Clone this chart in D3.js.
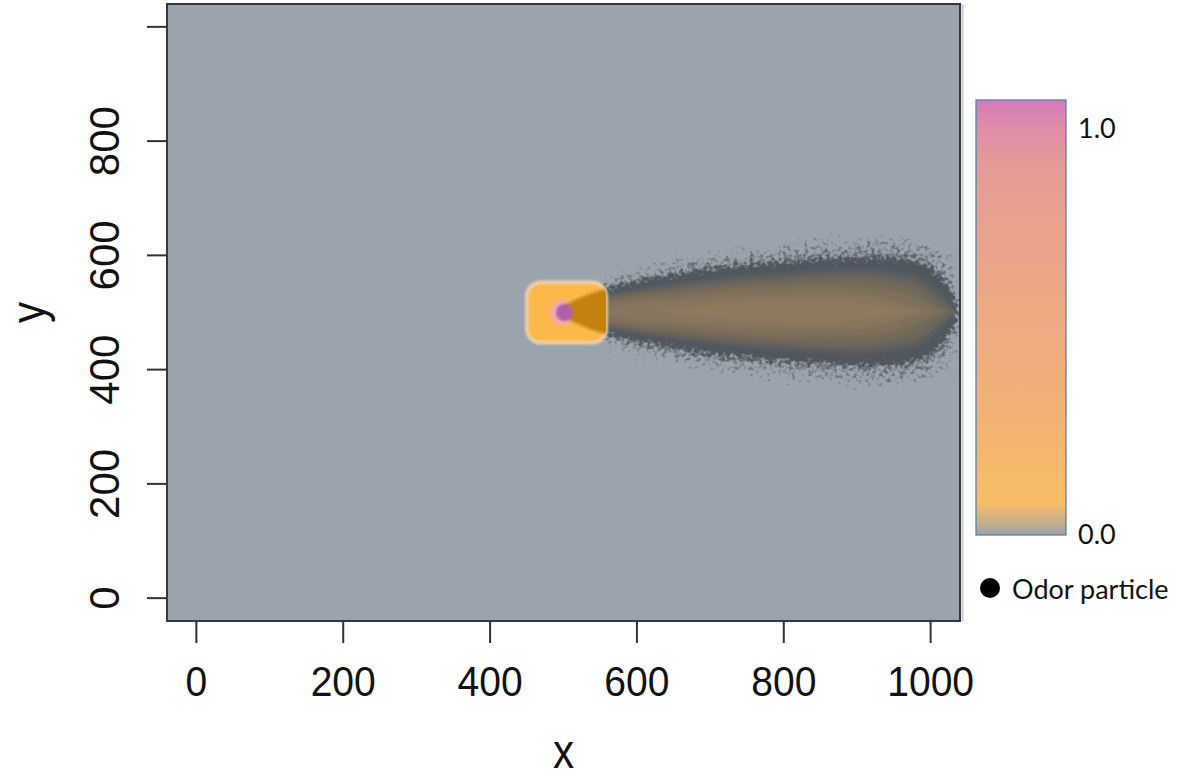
<!DOCTYPE html>
<html>
<head>
<meta charset="utf-8">
<script src="https://cdn.jsdelivr.net/npm/d3@7"></script>
<style>
  html, body { margin: 0; padding: 0; background: #ffffff; }
  svg { display: block; }
</style>
</head>
<body>
<svg id="chart" width="1191" height="778"></svg>
<script>
// ---- axes ----
const xTicks = [0, 200, 400, 600, 800, 1000];
const xTickLabels = ["0", "200", "400", "600", "800", "1000"];
const yTicks = [0, 200, 400, 600, 800, 1000];
const yTickLabels = ["0", "200", "400", "600", "800", ""];

// ---- odor source ----
const sourcePoint = [500, 500];
const sourceBoxX = [450, 558];
const sourceBoxY = [447, 553];

// ---- plume: stations along x, centre line, and half-widths (y units) of each band, outer to inner ----
const plumeX       = [502, 537, 577, 632, 687, 755, 823, 891, 946, 987, 1014, 1035];
const plumeCenterY = [502, 502, 502, 502, 502, 502, 502, 502, 502, 502, 502, 502];
const bandScatter = [18, 50, 70, 88, 102, 114, 124, 132, 134, 128, 114, 92];
const bandDense   = [11, 33, 47, 61, 73, 82, 89, 94, 95, 88, 66, 22];
const band1       = [7, 26, 34, 46, 56, 64, 71, 75, 73, 63, 34, 0];
const band2       = [5, 22, 30, 40, 49, 57, 62, 66, 63, 51, 20, 0];
const band3       = [4, 18, 26, 34, 41, 48, 54, 56, 51, 37, 0, 0];
const band4       = [0, 14, 22, 28, 34, 40, 44, 45, 38, 20, 0, 0];
const band5       = [0, 0, 14, 19, 24, 29, 32, 32, 24, 0, 0, 0];
const band6       = [0, 0, 0, 0, 11, 17, 19, 17, 8, 0, 0, 0];
const innerBands = [band1, band2, band3, band4, band5, band6];
const innerColors = ["#5c5d5f", "#6a655c", "#756b5a", "#7e705b", "#87745d", "#8f795f"];

// ---- colour bar ----
const cbStops  = [0, 0.035, 0.075, 0.2, 0.45, 0.7, 0.85, 0.93, 1.0];
const cbColors = ["#9ba4ae", "#cdb086", "#f9bd66", "#f5b56f", "#efab80", "#eaa28b", "#e59a97", "#e08ea5", "#d67abb"];
const cbTickValues = [0, 1];
const cbTickLabels = ["0.0", "1.0"];
const legendLabel = "Odor particle";

const svg = d3.select("#chart");
const defs = svg.append("defs");

const x = d3.scaleLinear().domain([-40, 1040]).range([167, 960]);
const y = d3.scaleLinear().domain([-40, 1040]).range([621, 4]);

// ---- filters ----
// particle speckle: noise thresholded against a blurred copy of a band outline
function speckleFilter(id, blur, freq, k2, k3, k4, slope, seed, color) {
  const f = defs.append("filter").attr("id", id)
    .attr("filterUnits", "userSpaceOnUse")
    .attr("x", x(420)).attr("y", y(720))
    .attr("width", x(1040) - x(420)).attr("height", y(280) - y(720))
    .attr("color-interpolation-filters", "sRGB");
  f.append("feGaussianBlur").attr("in", "SourceAlpha").attr("stdDeviation", blur).attr("result", "soft");
  f.append("feTurbulence").attr("type", "fractalNoise").attr("baseFrequency", freq)
    .attr("numOctaves", 2).attr("seed", seed).attr("result", "noise");
  f.append("feColorMatrix").attr("in", "noise").attr("type", "matrix")
    .attr("values", "0 0 0 0 0  0 0 0 0 0  0 0 0 0 0  1 0 0 0 0").attr("result", "na");
  f.append("feComposite").attr("in", "soft").attr("in2", "na").attr("operator", "arithmetic")
    .attr("k1", 0).attr("k2", k2).attr("k3", k3).attr("k4", k4).attr("result", "sum");
  f.append("feComponentTransfer").attr("in", "sum").attr("result", "sharp")
    .append("feFuncA").attr("type", "linear").attr("slope", slope).attr("intercept", 0);
  f.append("feGaussianBlur").attr("in", "sharp").attr("stdDeviation", 0.7).attr("result", "mask");
  f.append("feFlood").attr("flood-color", color).attr("result", "col");
  f.append("feComposite").attr("in", "col").attr("in2", "mask").attr("operator", "in");
}
speckleFilter("scatter", 9, 0.24, 0.6, 1.35, -1.15, 2.0, 5, "#59606a");
speckleFilter("speckle", 8, 0.26, 1.4, 1.25, -1.05, 2.4, 11, "#50575f");

const soften = defs.append("filter").attr("id", "soften")
  .attr("x", "-10%").attr("y", "-30%").attr("width", "120%").attr("height", "160%");
soften.append("feGaussianBlur").attr("stdDeviation", 1.4);

const rim = defs.append("filter").attr("id", "rim")
  .attr("x", "-20%").attr("y", "-20%").attr("width", "140%").attr("height", "140%");
rim.append("feGaussianBlur").attr("stdDeviation", 1.3);

const glow = defs.append("filter").attr("id", "glow")
  .attr("x", "-50%").attr("y", "-50%").attr("width", "200%").attr("height", "200%");
glow.append("feGaussianBlur").attr("stdDeviation", 2.2);

defs.append("clipPath").attr("id", "panelClip").append("rect")
  .attr("x", x(-40)).attr("y", y(1040))
  .attr("width", x(1040) - x(-40)).attr("height", y(-40) - y(1040));

defs.append("clipPath").attr("id", "boxClip").append("rect")
  .attr("x", x(sourceBoxX[0])).attr("y", y(sourceBoxY[1]))
  .attr("width", x(sourceBoxX[1]) - x(sourceBoxX[0]))
  .attr("height", y(sourceBoxY[0]) - y(sourceBoxY[1]))
  .attr("rx", 14);

// ---- panel ----
svg.append("rect")
  .attr("x", x(-40)).attr("y", y(1040))
  .attr("width", x(1040) - x(-40)).attr("height", y(-40) - y(1040))
  .attr("fill", "#9ba4ad");

const plot = svg.append("g").attr("clip-path", "url(#panelClip)");

const bandArea = hw => d3.area()
  .x((d, i) => x(plumeX[i]))
  .y0((d, i) => y(plumeCenterY[i] - hw[i]))
  .y1((d, i) => y(plumeCenterY[i] + hw[i]))
  .curve(d3.curveBasis)(plumeX);

// loose particles around the cloud
plot.append("path").attr("d", bandArea(bandScatter))
  .attr("fill", "#59606a").attr("filter", "url(#scatter)");

// dense particle cloud with speckled fringe
plot.append("path").attr("d", bandArea(bandDense))
  .attr("fill", "#50575f").attr("filter", "url(#speckle)");

// concentration bands inside the cloud
const inner = plot.append("g").attr("filter", "url(#soften)");
innerBands.forEach((b, k) => {
  inner.append("path").attr("d", bandArea(b)).attr("fill", innerColors[k]);
});

// source box
plot.append("rect")
  .attr("x", x(sourceBoxX[0])).attr("y", y(sourceBoxY[1]))
  .attr("width", x(sourceBoxX[1]) - x(sourceBoxX[0]))
  .attr("height", y(sourceBoxY[0]) - y(sourceBoxY[1]))
  .attr("rx", 14)
  .attr("fill", "#fcb84a")
  .attr("stroke", "#ecd3a8").attr("stroke-width", 3.5)
  .attr("filter", "url(#rim)");

// pink halo around the release point
plot.append("circle")
  .attr("cx", x(sourcePoint[0]) - 1).attr("cy", y(sourcePoint[1])).attr("r", 12)
  .attr("fill", "#efa6c4").attr("filter", "url(#glow)");

// plume seen through the source box
plot.append("g").attr("clip-path", "url(#boxClip)")
  .append("path").attr("d", bandArea(bandDense))
  .attr("fill", "#c2820f").attr("filter", "url(#soften)");

// release point
plot.append("circle")
  .attr("cx", x(sourcePoint[0]) + 1).attr("cy", y(sourcePoint[1])).attr("r", 8.5)
  .attr("fill", "#b060a8").attr("filter", "url(#rim)");

// ---- frame ----
svg.append("line")
  .attr("x1", x(1040) + 2.5).attr("x2", x(1040) + 2.5)
  .attr("y1", y(1040)).attr("y2", y(-40))
  .attr("stroke", "#c3c8ce").attr("stroke-width", 2);
svg.append("rect")
  .attr("x", x(-40)).attr("y", y(1040))
  .attr("width", x(1040) - x(-40)).attr("height", y(-40) - y(1040))
  .attr("fill", "none").attr("stroke", "#34373b").attr("stroke-width", 2);

// ---- x axis ----
const xAxis = svg.append("g");
xAxis.selectAll("line").data(xTicks).join("line")
  .attr("x1", d => x(d)).attr("x2", d => x(d))
  .attr("y1", y(-40)).attr("y2", y(-40) + 22)
  .attr("stroke", "#333").attr("stroke-width", 2);
xAxis.selectAll("text").data(xTicks).join("text")
  .attr("transform", d => `translate(${x(d)},696) scale(0.93,1)`)
  .attr("text-anchor", "middle")
  .attr("font-family", "Liberation Sans, Arial, sans-serif")
  .attr("font-size", 42).attr("fill", "#111")
  .text((d, i) => xTickLabels[i]);

// ---- y axis ----
const yAxis = svg.append("g");
yAxis.selectAll("line").data(yTicks).join("line")
  .attr("x1", x(-40) - 20).attr("x2", x(-40))
  .attr("y1", d => y(d)).attr("y2", d => y(d))
  .attr("stroke", "#333").attr("stroke-width", 2);
yAxis.selectAll("text").data(yTicks).join("text")
  .attr("transform", d => `translate(119,${y(d)}) rotate(-90)`)
  .attr("text-anchor", "middle")
  .attr("font-family", "Liberation Sans, Arial, sans-serif")
  .attr("font-size", 42).attr("fill", "#111")
  .text((d, i) => yTickLabels[i]);

// ---- axis titles ----
svg.append("text")
  .attr("transform", `translate(${x(500)},768) scale(0.88,1)`)
  .attr("text-anchor", "middle")
  .attr("font-family", "Liberation Sans, Arial, sans-serif")
  .attr("font-size", 48).attr("fill", "#111")
  .text("x");
svg.append("text")
  .attr("transform", `translate(45,${y(500)}) rotate(-90) scale(0.88,1)`)
  .attr("text-anchor", "middle")
  .attr("font-family", "Liberation Sans, Arial, sans-serif")
  .attr("font-size", 48).attr("fill", "#111")
  .text("y");

// ---- colour bar ----
const grad = defs.append("linearGradient").attr("id", "cbGrad")
  .attr("x1", 0).attr("y1", 1).attr("x2", 0).attr("y2", 0);
grad.selectAll("stop").data(cbStops).join("stop")
  .attr("offset", d => d)
  .attr("stop-color", (d, i) => cbColors[i]);

const cbTop = 100, cbBottom = 535, cbLeft = 976, cbWidth = 90;
const cb = d3.scaleLinear().domain([0, 1]).range([533, 127]);
svg.append("rect")
  .attr("x", cbLeft).attr("y", cbTop).attr("width", cbWidth).attr("height", cbBottom - cbTop)
  .attr("fill", "url(#cbGrad)")
  .attr("stroke", "#5b80a8").attr("stroke-width", 1.3);
svg.selectAll(".cbLabel").data(cbTickValues).join("text")
  .attr("class", "cbLabel")
  .attr("x", cbLeft + cbWidth + 12).attr("y", d => cb(d))
  .attr("dominant-baseline", "central")
  .attr("font-family", "Lato, sans-serif")
  .attr("font-size", 27).attr("fill", "#111")
  .text((d, i) => cbTickLabels[i]);

// ---- legend ----
svg.append("circle").attr("cx", 990).attr("cy", 588).attr("r", 10).attr("fill", "#000");
svg.append("text")
  .attr("x", 1012).attr("y", 588)
  .attr("dominant-baseline", "central")
  .attr("font-family", "Lato, sans-serif")
  .attr("font-size", 27).attr("fill", "#111")
  .text(legendLabel);
</script>
</body>
</html>
